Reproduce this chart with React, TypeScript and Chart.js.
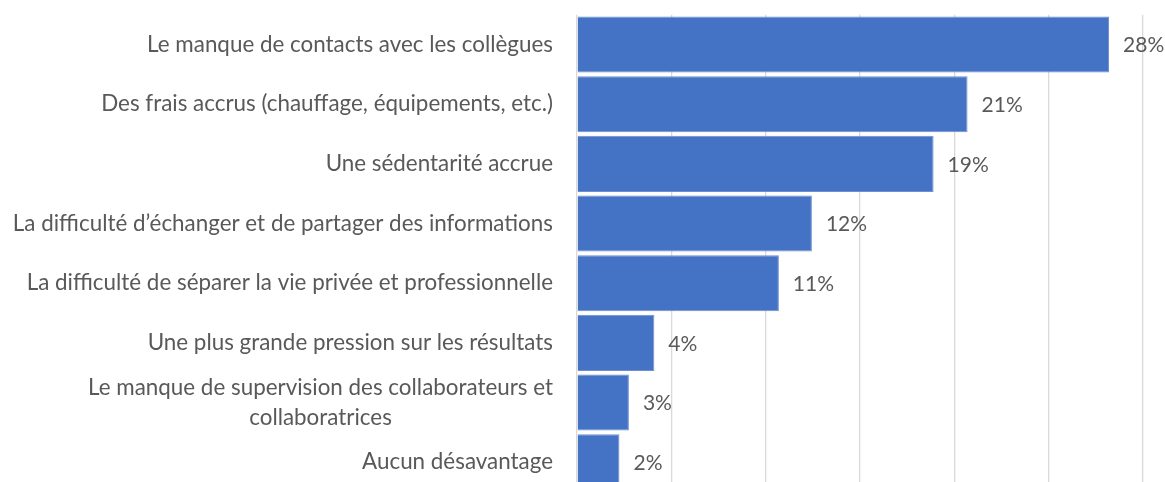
import React, { useEffect, useRef } from "react";
import { Chart, registerables } from "chart.js";

Chart.register(...registerables);

const categories: (string | string[])[] = [
  "Le manque de contacts avec les collègues",
  "Des frais accrus (chauffage, équipements, etc.)",
  "Une sédentarité accrue",
  "La difficulté d’échanger et de partager des informations",
  "La difficulté de séparer la vie privée et professionnelle",
  "Une plus grande pression sur les résultats",
  ["Le manque de supervision des collaborateurs et", "collaboratrices"],
  "Aucun désavantage",
];

const values = [28.2, 20.7, 18.9, 12.45, 10.7, 4.1, 2.75, 2.25];
const valueLabels = ["28%", "21%", "19%", "12%", "11%", "4%", "3%", "2%"];

const FONT_FAMILY = "Lato, 'Open Sans', sans-serif";
const FONT_SIZE = 22.4;
const VALUE_FONT_SIZE = 21;
const TEXT_COLOR = "#595959";

const labelPlugin = {
  id: "customLabels",
  afterDraw(chart: any) {
    const ctx = chart.ctx;
    const yScale = chart.scales.y;
    const area = chart.chartArea;
    ctx.save();
    ctx.font = `${FONT_SIZE}px ${FONT_FAMILY}`;
    ctx.fillStyle = TEXT_COLOR;
    ctx.textBaseline = "middle";
    // category labels
    const rightX = area.left - 24;
    categories.forEach((label, i) => {
      const y = yScale.getPixelForValue(i);
      const lines = Array.isArray(label) ? label : [label];
      if (lines.length === 1) {
        ctx.textAlign = "right";
        ctx.fillText(lines[0], rightX, y);
      } else {
        const w = Math.max(...lines.map((l) => ctx.measureText(l).width));
        const cx = rightX - w / 2;
        ctx.textAlign = "center";
        lines.forEach((l, j) => {
          ctx.fillText(l, cx, y + (j - (lines.length - 1) / 2) * 30);
        });
      }
    });
    // value labels
    ctx.font = `${VALUE_FONT_SIZE}px ${FONT_FAMILY}`;
    const meta = chart.getDatasetMeta(0);
    ctx.textAlign = "left";
    meta.data.forEach((bar: any, i: number) => {
      ctx.fillText(valueLabels[i], bar.x + 14, bar.y + 1);
    });
    ctx.restore();
  },
};

export default function App() {
  const canvasRef = useRef<HTMLCanvasElement>(null);

  useEffect(() => {
    document.body.style.overflow = "hidden";
    const chart = new Chart(canvasRef.current!, {
      type: "bar",
      data: {
        labels: categories,
        datasets: [
          {
            data: values,
            backgroundColor: "#4472C4",
            borderColor: "#6f8fd0",
            borderWidth: 1,
            barPercentage: 1,
            categoryPercentage: 0.94,
          },
        ],
      },
      options: {
        indexAxis: "y",
        animation: false,
        responsive: true,
        maintainAspectRatio: false,
        layout: { padding: { top: 14.7, right: 22, bottom: 0, left: 0 } },
        plugins: {
          legend: { display: false },
          tooltip: { enabled: false },
        },
        scales: {
          x: {
            min: 0,
            max: 30,
            ticks: { display: false, stepSize: 5 },
            grid: { color: "#d9d9d9", lineWidth: 1.3, drawTicks: false },
            border: { display: false },
          },
          y: {
            ticks: { display: false },
            grid: { display: false },
            border: { display: false },
            afterFit(scale: any) {
              scale.width = 577;
            },
          },
        },
      },
      plugins: [labelPlugin],
    });
    return () => chart.destroy();
  }, []);

  return (
    <div
      style={{
        position: "fixed",
        top: 0,
        left: 0,
        width: 1165,
        height: 492,
        background: "#ffffff",
      }}
    >
      <canvas ref={canvasRef} />
    </div>
  );
}
